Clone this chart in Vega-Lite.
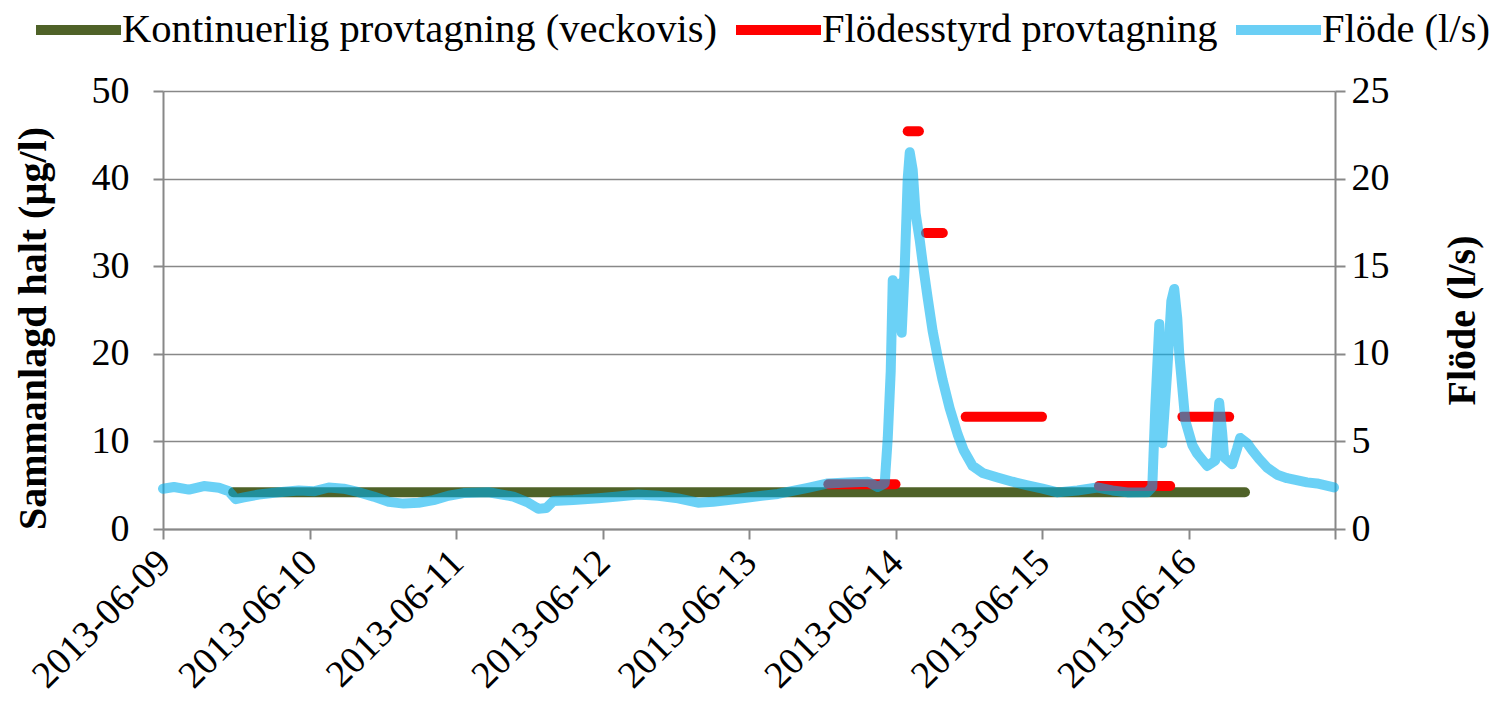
{
  "$schema": "https://vega.github.io/schema/vega-lite/v6.json",
  "autosize": "none",
  "width": 1172,
  "height": 438,
  "padding": {"left": 163, "top": 91, "right": 154, "bottom": 185},
  "background": "white",
  "config": {
    "font": "Liberation Serif",
    "view": {"stroke": null},
    "axis": {"labelFont": "Liberation Serif", "titleFont": "Liberation Serif", "labelColor": "black", "titleColor": "black", "domainColor": "#888888", "tickColor": "#888888", "gridColor": "#888888", "domainWidth": 2, "tickWidth": 2, "gridWidth": 1.5}
  },
  "datasets": {
    "flow": [
      {"t": "2013-06-09T00:00:00", "q": 2.3},
      {"t": "2013-06-09T01:48:00", "q": 2.4},
      {"t": "2013-06-09T04:15:00", "q": 2.25},
      {"t": "2013-06-09T06:42:00", "q": 2.45},
      {"t": "2013-06-09T09:10:00", "q": 2.35},
      {"t": "2013-06-09T10:48:00", "q": 2.15},
      {"t": "2013-06-09T11:56:00", "q": 1.7},
      {"t": "2013-06-09T13:15:00", "q": 1.8},
      {"t": "2013-06-09T15:42:00", "q": 1.97},
      {"t": "2013-06-09T18:58:00", "q": 2.1},
      {"t": "2013-06-09T22:14:00", "q": 2.2},
      {"t": "2013-06-10T00:41:00", "q": 2.15},
      {"t": "2013-06-10T03:09:00", "q": 2.37},
      {"t": "2013-06-10T05:36:00", "q": 2.3},
      {"t": "2013-06-10T08:03:00", "q": 2.1},
      {"t": "2013-06-10T10:30:00", "q": 1.85},
      {"t": "2013-06-10T12:58:00", "q": 1.55},
      {"t": "2013-06-10T15:25:00", "q": 1.45},
      {"t": "2013-06-10T17:52:00", "q": 1.5},
      {"t": "2013-06-10T20:19:00", "q": 1.65},
      {"t": "2013-06-10T22:46:00", "q": 1.9},
      {"t": "2013-06-11T01:14:00", "q": 2.05},
      {"t": "2013-06-11T05:19:00", "q": 2.1},
      {"t": "2013-06-11T09:24:00", "q": 1.85},
      {"t": "2013-06-11T11:51:00", "q": 1.5},
      {"t": "2013-06-11T13:29:00", "q": 1.15},
      {"t": "2013-06-11T14:48:00", "q": 1.2},
      {"t": "2013-06-11T15:57:00", "q": 1.6},
      {"t": "2013-06-11T19:13:00", "q": 1.65},
      {"t": "2013-06-11T23:18:00", "q": 1.75},
      {"t": "2013-06-12T02:34:00", "q": 1.85},
      {"t": "2013-06-12T05:51:00", "q": 1.97},
      {"t": "2013-06-12T09:07:00", "q": 1.9},
      {"t": "2013-06-12T12:23:00", "q": 1.75},
      {"t": "2013-06-12T15:39:00", "q": 1.5},
      {"t": "2013-06-12T18:07:00", "q": 1.55},
      {"t": "2013-06-12T20:34:00", "q": 1.65},
      {"t": "2013-06-12T23:50:00", "q": 1.8},
      {"t": "2013-06-13T04:44:00", "q": 2.0},
      {"t": "2013-06-13T09:39:00", "q": 2.35},
      {"t": "2013-06-13T12:55:00", "q": 2.6},
      {"t": "2013-06-13T16:11:00", "q": 2.65},
      {"t": "2013-06-13T19:27:00", "q": 2.7},
      {"t": "2013-06-13T21:05:00", "q": 2.4},
      {"t": "2013-06-13T22:14:00", "q": 2.6},
      {"t": "2013-06-13T22:44:00", "q": 5.2},
      {"t": "2013-06-13T23:13:00", "q": 9},
      {"t": "2013-06-13T23:33:00", "q": 14.2},
      {"t": "2013-06-14T00:02:00", "q": 11.5},
      {"t": "2013-06-14T00:32:00", "q": 14.0},
      {"t": "2013-06-14T01:01:00", "q": 11.2},
      {"t": "2013-06-14T01:31:00", "q": 15},
      {"t": "2013-06-14T02:00:00", "q": 20},
      {"t": "2013-06-14T02:20:00", "q": 21.5},
      {"t": "2013-06-14T02:49:00", "q": 20.5},
      {"t": "2013-06-14T03:18:00", "q": 18.0},
      {"t": "2013-06-14T03:58:00", "q": 16.5},
      {"t": "2013-06-14T04:27:00", "q": 15.2},
      {"t": "2013-06-14T05:16:00", "q": 13.2},
      {"t": "2013-06-14T06:05:00", "q": 11.3},
      {"t": "2013-06-14T06:55:00", "q": 9.8},
      {"t": "2013-06-14T07:43:00", "q": 8.5},
      {"t": "2013-06-14T08:52:00", "q": 6.9},
      {"t": "2013-06-14T10:11:00", "q": 5.4},
      {"t": "2013-06-14T11:10:00", "q": 4.5},
      {"t": "2013-06-14T12:38:00", "q": 3.6},
      {"t": "2013-06-14T14:16:00", "q": 3.2},
      {"t": "2013-06-14T16:43:00", "q": 2.94},
      {"t": "2013-06-14T19:10:00", "q": 2.7},
      {"t": "2013-06-14T21:38:00", "q": 2.49},
      {"t": "2013-06-15T00:05:00", "q": 2.3},
      {"t": "2013-06-15T02:32:00", "q": 2.09},
      {"t": "2013-06-15T05:48:00", "q": 2.2},
      {"t": "2013-06-15T09:04:00", "q": 2.37},
      {"t": "2013-06-15T11:32:00", "q": 2.2},
      {"t": "2013-06-15T13:59:00", "q": 2.09},
      {"t": "2013-06-15T17:15:00", "q": 2.1},
      {"t": "2013-06-15T18:04:00", "q": 2.4},
      {"t": "2013-06-15T18:34:00", "q": 7},
      {"t": "2013-06-15T19:13:00", "q": 11.7},
      {"t": "2013-06-15T19:42:00", "q": 4.9},
      {"t": "2013-06-15T20:31:00", "q": 9},
      {"t": "2013-06-15T21:11:00", "q": 13.0},
      {"t": "2013-06-15T21:40:00", "q": 13.7},
      {"t": "2013-06-15T22:10:00", "q": 12.0},
      {"t": "2013-06-15T22:29:00", "q": 10.0},
      {"t": "2013-06-15T23:28:00", "q": 6.2},
      {"t": "2013-06-16T00:37:00", "q": 4.8},
      {"t": "2013-06-16T01:26:00", "q": 4.3},
      {"t": "2013-06-16T03:04:00", "q": 3.6},
      {"t": "2013-06-16T04:22:00", "q": 3.9},
      {"t": "2013-06-16T04:42:00", "q": 5.5},
      {"t": "2013-06-16T05:02:00", "q": 7.2},
      {"t": "2013-06-16T05:31:00", "q": 5.5},
      {"t": "2013-06-16T05:50:00", "q": 4.1},
      {"t": "2013-06-16T07:09:00", "q": 3.7},
      {"t": "2013-06-16T07:58:00", "q": 4.6},
      {"t": "2013-06-16T08:28:00", "q": 5.2},
      {"t": "2013-06-16T09:36:00", "q": 4.9},
      {"t": "2013-06-16T10:25:00", "q": 4.5},
      {"t": "2013-06-16T11:34:00", "q": 4.0},
      {"t": "2013-06-16T12:53:00", "q": 3.5},
      {"t": "2013-06-16T14:31:00", "q": 3.1},
      {"t": "2013-06-16T16:09:00", "q": 2.9},
      {"t": "2013-06-16T19:25:00", "q": 2.66},
      {"t": "2013-06-16T21:03:00", "q": 2.6},
      {"t": "2013-06-16T23:50:00", "q": 2.37}
    ],
    "cont": [
      {"start": "2013-06-09T11:30:00", "end": "2013-06-16T09:15:00", "value": 4.2}
    ],
    "flodes": [
      {"start": "2013-06-13T13:00:00", "end": "2013-06-14T00:00:00", "value": 5.1},
      {"start": "2013-06-14T02:00:00", "end": "2013-06-14T03:50:00", "value": 45.4},
      {"start": "2013-06-14T05:00:00", "end": "2013-06-14T07:45:00", "value": 33.8},
      {"start": "2013-06-14T11:30:00", "end": "2013-06-15T00:00:00", "value": 12.8},
      {"start": "2013-06-15T09:20:00", "end": "2013-06-15T21:00:00", "value": 4.9},
      {"start": "2013-06-15T23:00:00", "end": "2013-06-16T06:40:00", "value": 12.8}
    ]
  },
  "layer": [
    {
      "layer": [
        {
          "data": {"name": "cont"},
          "mark": {"type": "rule", "strokeWidth": 10, "strokeCap": "round"},
          "encoding": {
            "x": {"field": "start", "type": "temporal"},
            "x2": {"field": "end"},
            "y": {"field": "value", "type": "quantitative"},
            "color": {"datum": "Kontinuerlig provtagning (veckovis)"}
          }
        },
        {
          "data": {"name": "flodes"},
          "mark": {"type": "rule", "strokeWidth": 10, "strokeCap": "round"},
          "encoding": {
            "x": {"field": "start", "type": "temporal"},
            "x2": {"field": "end"},
            "y": {"field": "value", "type": "quantitative"},
            "color": {"datum": "Flödesstyrd provtagning"}
          }
        }
      ],
      "encoding": {
        "x": {
          "type": "temporal",
          "scale": {"domain": [{"year": 2013, "month": 6, "date": 9}, {"year": 2013, "month": 6, "date": 17}], "nice": false},
          "axis": {
            "title": null,
            "tickCount": {"interval": "day", "step": 1},
            "labelExpr": "datum.value >= datetime(2013, 5, 16, 12) ? '' : timeFormat(datum.value, '%Y-%m-%d')",
            "labelAngle": -45,
            "labelAlign": "right",
            "labelBaseline": "top",
            "labelFontSize": 38,
            "labelPadding": 4,
            "labelOffset": -12,
            "labelLimit": 500,
            "labelOverlap": false,
            "labelBound": false,
            "labelFlush": false,
            "tickSize": 10,
            "grid": false
          }
        },
        "y": {
          "type": "quantitative",
          "scale": {"domain": [0, 50], "nice": false},
          "axis": {
            "title": "Sammanlagd halt (µg/l)",
            "titleFontSize": 40,
            "titleFontWeight": "bold",
            "titleX": -130,
            "titleY": 237,
            "titleAlign": "center",
            "titleBaseline": "middle",
            "titleAngle": 270,
            "values": [0, 10, 20, 30, 40, 50],
            "labelFontSize": 38,
            "labelPadding": 24,
            "tickSize": 10,
            "grid": true
          }
        },
        "color": {
          "type": "nominal",
          "scale": {
            "domain": ["Kontinuerlig provtagning (veckovis)", "Flödesstyrd provtagning", "Flöde (l/s)"],
            "range": ["#4F6228", "#FF0000", "#6BCFF5"]
          },
          "legend": {
            "title": null,
            "orient": "none",
            "direction": "horizontal",
            "legendX": -132,
            "legendY": -109,
            "symbolType": "stroke",
            "symbolSize": 7225,
            "symbolStrokeWidth": 10,
            "symbolOpacity": 1,
            "labelFont": "Liberation Serif",
            "labelFontSize": 40.6,
            "labelColor": "black",
            "labelOffset": -4,
            "columnPadding": -2,
            "labelLimit": 1000
          }
        }
      }
    },
    {
      "data": {"name": "flow"},
      "mark": {"type": "line", "strokeWidth": 10, "opacity": 0.58, "strokeJoin": "round", "strokeCap": "round"},
      "encoding": {
        "x": {"field": "t", "type": "temporal"},
        "y": {
          "field": "q",
          "type": "quantitative",
          "scale": {"domain": [0, 25], "nice": false},
          "axis": {
            "orient": "right",
            "title": "Flöde (l/s)",
            "titleFontSize": 40,
            "titleFontWeight": "bold",
            "titleAngle": 270,
            "titleX": 127,
            "titleY": 229,
            "titleAlign": "center",
            "titleBaseline": "middle",
            "values": [0, 5, 10, 15, 20, 25],
            "labelFontSize": 38,
            "labelPadding": 6,
            "tickSize": 10,
            "grid": false
          }
        },
        "color": {"datum": "Flöde (l/s)"},
        "stroke": {"value": "#00B0F0"}
      }
    }
  ],
  "resolve": {"scale": {"y": "independent"}, "axis": {"y": "independent"}}
}
